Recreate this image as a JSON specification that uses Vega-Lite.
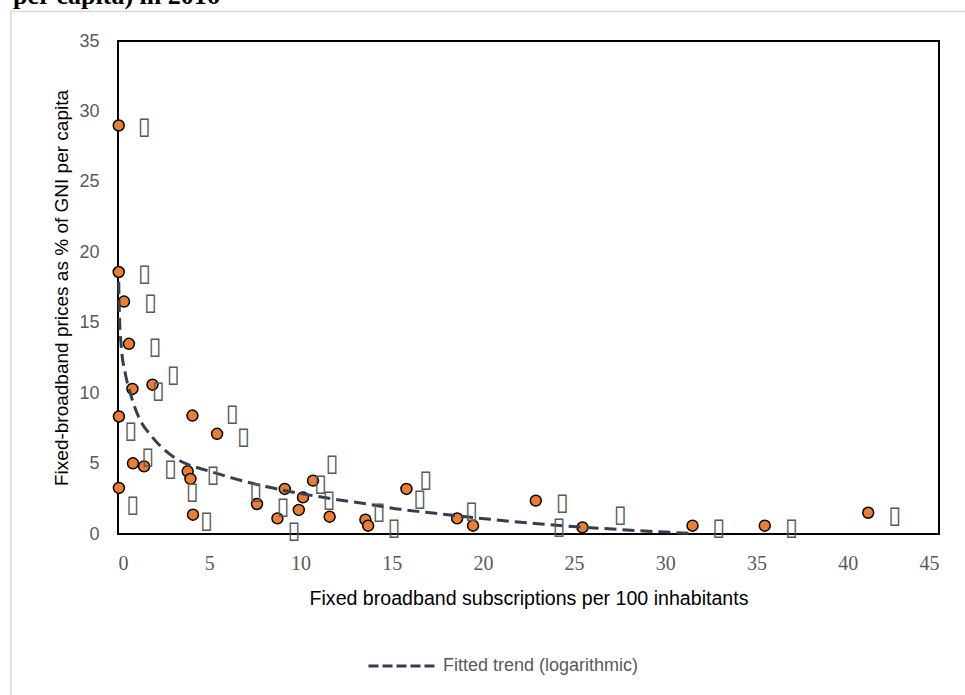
{
  "$schema": "https://vega.github.io/schema/vega-lite/v6.json",
  "width": 821,
  "height": 493,
  "autosize": {"type": "none"},
  "padding": {"left": 118, "top": 41, "right": 26, "bottom": 161},
  "background": "white",
  "title": {
    "text": "per capita) in 2016",
    "anchor": "start",
    "frame": "group",
    "orient": "top",
    "font": "Liberation Serif",
    "fontSize": 26,
    "fontWeight": "bold",
    "color": "black",
    "baseline": "alphabetic",
    "offset": -19.5,
    "dx": -105
  },
  "config": {
    "view": {"stroke": "black", "strokeWidth": 2},
    "axis": {"grid": false, "domain": false, "ticks": false, "titleFontWeight": "normal", "titleColor": "black", "labelColor": "#595959", "labelPadding": 19},
    "axisX": {"labelFont": "Liberation Serif", "labelFontSize": 20, "titleFont": "Liberation Sans", "titleFontSize": 19.6, "titlePadding": 16},
    "axisY": {"labelFont": "Liberation Sans", "labelFontSize": 18, "titleFont": "Liberation Sans", "titleFontSize": 19, "titlePadding": 7}
  },
  "datasets": {
    "points": [
      {"x": 0.04, "y": 29.0}, {"x": 0.04, "y": 18.6}, {"x": 0.33, "y": 16.5}, {"x": 0.6, "y": 13.5},
      {"x": 0.79, "y": 10.3}, {"x": 1.89, "y": 10.6}, {"x": 0.05, "y": 8.34}, {"x": 4.08, "y": 8.41},
      {"x": 0.82, "y": 5.02}, {"x": 1.43, "y": 4.8}, {"x": 0.05, "y": 3.27}, {"x": 3.82, "y": 4.45},
      {"x": 3.97, "y": 3.91}, {"x": 4.11, "y": 1.37}, {"x": 5.43, "y": 7.11}, {"x": 7.62, "y": 2.13},
      {"x": 8.74, "y": 1.11}, {"x": 9.14, "y": 3.2}, {"x": 9.91, "y": 1.71}, {"x": 10.14, "y": 2.6},
      {"x": 10.69, "y": 3.79}, {"x": 11.6, "y": 1.23}, {"x": 13.56, "y": 1.02}, {"x": 13.71, "y": 0.59},
      {"x": 15.81, "y": 3.2}, {"x": 18.59, "y": 1.11}, {"x": 19.46, "y": 0.59}, {"x": 22.9, "y": 2.37},
      {"x": 25.46, "y": 0.47}, {"x": 31.49, "y": 0.59}, {"x": 35.45, "y": 0.59}, {"x": 41.12, "y": 1.51}
    ],
    "labels": [
      {"x": 1.44, "y": 28.88, "label": "▯"}, {"x": 1.46, "y": 18.43, "label": "▯"}, {"x": 1.79, "y": 16.37, "label": "▯"},
      {"x": 2.03, "y": 13.31, "label": "▯"}, {"x": 3.04, "y": 11.32, "label": "▯"}, {"x": 2.21, "y": 10.18, "label": "▯"},
      {"x": 0.71, "y": 7.29, "label": "▯"}, {"x": 1.63, "y": 5.49, "label": "▯"}, {"x": 2.89, "y": 4.62, "label": "▯"},
      {"x": 0.82, "y": 2.08, "label": "▯"}, {"x": 4.08, "y": 2.96, "label": "▯"}, {"x": 5.21, "y": 4.19, "label": "▯"},
      {"x": 4.85, "y": 0.9, "label": "▯"}, {"x": 6.27, "y": 8.53, "label": "▯"}, {"x": 6.89, "y": 6.87, "label": "▯"},
      {"x": 7.55, "y": 2.96, "label": "▯"}, {"x": 9.05, "y": 1.94, "label": "▯"}, {"x": 9.65, "y": 0.23, "label": "▯"},
      {"x": 11.73, "y": 4.98, "label": "▯"}, {"x": 11.1, "y": 3.55, "label": "▯"}, {"x": 11.57, "y": 2.42, "label": "▯"},
      {"x": 14.31, "y": 1.58, "label": "▯"}, {"x": 15.13, "y": 0.43, "label": "▯"}, {"x": 16.87, "y": 3.84, "label": "▯"},
      {"x": 16.54, "y": 2.49, "label": "▯"}, {"x": 19.38, "y": 1.61, "label": "▯"}, {"x": 24.36, "y": 2.17, "label": "▯"},
      {"x": 24.18, "y": 0.47, "label": "▯"}, {"x": 27.54, "y": 1.37, "label": "▯"}, {"x": 32.93, "y": 0.43, "label": "▯"},
      {"x": 36.92, "y": 0.43, "label": "▯"}, {"x": 42.58, "y": 1.3, "label": "▯"}
    ],
    "trend": [
      {"x": 0.04, "y": 17.9}, {"x": 0.07, "y": 15.9}, {"x": 0.18, "y": 13.3}, {"x": 0.4, "y": 11.4},
      {"x": 0.68, "y": 9.97}, {"x": 1.13, "y": 8.31}, {"x": 1.87, "y": 6.9}, {"x": 2.78, "y": 5.72},
      {"x": 3.88, "y": 4.9}, {"x": 4.5, "y": 4.65}, {"x": 5.16, "y": 4.4}, {"x": 6.33, "y": 3.95},
      {"x": 8.16, "y": 3.35}, {"x": 9.99, "y": 2.88}, {"x": 11.82, "y": 2.48}, {"x": 13.65, "y": 2.13},
      {"x": 15.48, "y": 1.75}, {"x": 17.5, "y": 1.45}, {"x": 20.4, "y": 1.04}, {"x": 23.16, "y": 0.71},
      {"x": 25.9, "y": 0.45}, {"x": 28.65, "y": 0.23}, {"x": 31.6, "y": 0.03}
    ]
  },
  "layer": [
    {
      "data": {"values": [{}]},
      "mark": {"type": "rect", "filled": false, "stroke": "#D9D9D9", "strokeWidth": 1.5, "strokeOpacity": 1, "clip": false},
      "encoding": {
        "x": {"datum": -5.87, "type": "quantitative", "scale": {"domain": [0, 45], "nice": false}},
        "x2": {"datum": 60},
        "y": {"datum": 37.1, "type": "quantitative", "scale": {"domain": [0, 35], "nice": false}},
        "y2": {"datum": -20}
      }
    },
    {
      "data": {"name": "points"},
      "mark": {"type": "point", "shape": "circle", "filled": true, "fill": "#ED7D31", "stroke": "black", "strokeWidth": 1.5, "size": 120, "opacity": 1},
      "encoding": {
        "x": {
          "field": "x",
          "type": "quantitative",
          "scale": {"domain": [0, 45], "nice": false},
          "axis": {"values": [0, 5, 10, 15, 20, 25, 30, 35, 40, 45]},
          "title": "Fixed broadband subscriptions per 100 inhabitants"
        },
        "y": {
          "field": "y",
          "type": "quantitative",
          "scale": {"domain": [0, 35], "nice": false},
          "axis": {"values": [0, 5, 10, 15, 20, 25, 30, 35]},
          "title": "Fixed-broadband prices as % of GNI per capita"
        }
      }
    },
    {
      "data": {"name": "trend"},
      "mark": {"type": "line", "strokeDash": [12, 6], "strokeWidth": 3, "interpolate": "monotone"},
      "encoding": {
        "x": {"field": "x", "type": "quantitative", "scale": {"domain": [0, 45], "nice": false}, "title": "Fixed broadband subscriptions per 100 inhabitants"},
        "y": {"field": "y", "type": "quantitative", "scale": {"domain": [0, 35], "nice": false}, "title": "Fixed-broadband prices as % of GNI per capita"},
        "color": {
          "datum": "Fitted trend (logarithmic)",
          "scale": {"range": ["#333F50"]},
          "legend": {
            "title": null,
            "orient": "none",
            "legendX": 249,
            "legendY": 590,
            "symbolType": "stroke",
            "symbolSize": 4489,
            "symbolStrokeWidth": 3,
            "symbolDash": [10, 4],
            "symbolStrokeColor": "#333F50",
            "labelFont": "Liberation Sans",
            "labelFontSize": 18,
            "labelColor": "#595959",
            "labelOffset": 6,
            "labelLimit": 0
          }
        }
      }
    },
    {
      "data": {"name": "labels"},
      "mark": {"type": "text", "font": "DejaVu Sans", "fontSize": 24, "color": "#595959", "baseline": "middle", "align": "center"},
      "encoding": {
        "x": {"field": "x", "type": "quantitative", "scale": {"domain": [0, 45], "nice": false}, "title": "Fixed broadband subscriptions per 100 inhabitants"},
        "y": {"field": "y", "type": "quantitative", "scale": {"domain": [0, 35], "nice": false}, "title": "Fixed-broadband prices as % of GNI per capita"},
        "text": {"field": "label"}
      }
    }
  ]
}
